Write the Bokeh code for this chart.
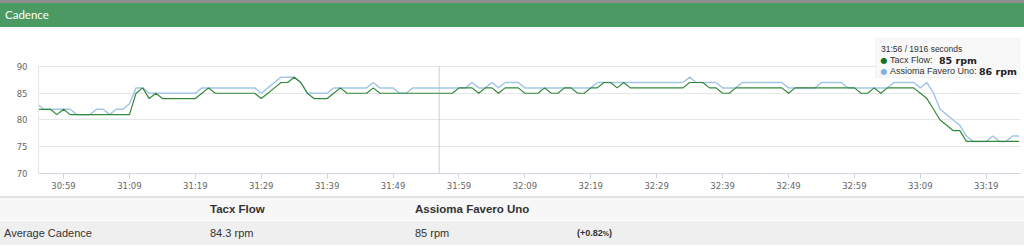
from bokeh.plotting import figure
from bokeh.models import ColumnDataSource, FixedTicker, Label, BoxAnnotation, Div, Range1d
from bokeh.layouts import column
from bokeh.embed import file_html
from bokeh.resources import INLINE

# ---------------- data ----------------
seconds = list(range(1855, 2005))
tacx_flow = [
    82, 82, 82, 81, 82, 81, 81, 81, 81, 81,
    81, 81, 81, 81, 81, 85, 86, 84, 85, 84,
    84, 84, 84, 84, 84, 85, 86, 85, 85, 85,
    85, 85, 85, 85, 84, 85, 86, 87, 87, 88,
    87, 85, 84, 84, 84, 85, 86, 85, 85, 85,
    85, 86, 85, 85, 85, 85, 85, 85, 85, 85,
    85, 85, 85, 85, 86, 86, 86, 85, 86, 86,
    85, 86, 86, 86, 85, 85, 85, 86, 85, 85,
    86, 86, 85, 85, 86, 86, 87, 87, 86, 87,
    86, 86, 86, 86, 86, 86, 86, 86, 86, 87,
    87, 87, 86, 86, 85, 85, 86, 86, 86, 86,
    86, 86, 86, 86, 85, 86, 86, 86, 86, 86,
    86, 86, 86, 86, 86, 85, 85, 86, 85, 86,
    86, 86, 86, 86, 85, 84, 82, 80, 79, 78,
    78, 76, 76, 76, 76, 76, 76, 76, 76, 76,
]
assioma_favero_uno = [
    83, 82, 82, 82, 82, 82, 81, 81, 81, 82,
    82, 81, 82, 82, 83, 86, 86, 85, 85, 85,
    85, 85, 85, 85, 85, 86, 86, 86, 86, 86,
    86, 86, 86, 86, 85, 86, 87, 88, 88, 88,
    87, 85, 85, 85, 85, 86, 86, 86, 86, 86,
    86, 87, 86, 86, 86, 85, 85, 86, 86, 86,
    86, 86, 86, 86, 86, 86, 87, 86, 86, 87,
    86, 87, 87, 87, 86, 86, 86, 86, 86, 86,
    86, 86, 86, 86, 86, 87, 87, 87, 87, 87,
    87, 87, 87, 87, 87, 87, 87, 87, 87, 88,
    87, 87, 87, 87, 86, 86, 86, 87, 87, 87,
    87, 87, 87, 87, 86, 86, 86, 86, 86, 87,
    87, 87, 87, 86, 86, 86, 86, 86, 86, 86,
    87, 87, 87, 87, 86, 87, 85, 82, 81, 80,
    79, 77, 76, 76, 76, 77, 76, 76, 77, 77,
]
x_ticks = [1859, 1869, 1879, 1889, 1899, 1909, 1919, 1929, 1939, 1949, 1959, 1969, 1979, 1989, 1999]
x_tick_labels = ["30:59", "31:09", "31:19", "31:29", "31:39", "31:49", "31:59", "32:09",
                 "32:19", "32:29", "32:39", "32:49", "32:59", "33:09", "33:19"]
y_ticks = [70, 75, 80, 85, 90]
series_names = ["Tacx Flow", "Assioma Favero Uno"]
hover_second = 1916
row_label = "Average Cadence"
averages = ["84.3 rpm", "85 rpm"]
difference = "+0.82"

GREEN = "#33893a"
GREEN_DOT = "#197019"
BLUE = "#a3c6e8"
BLUE_DOT = "#86b2e0"

# ---------------- chart ----------------
src = ColumnDataSource(dict(t=seconds, tacx=tacx_flow, assioma=assioma_favero_uno))

# frame spans page y 36..173 so the tooltip (y 38..77) lies inside it; 90 rpm sits at y ~66
p = figure(width=1024, height=168, x_range=Range1d(1855.2, 2004.2), y_range=Range1d(70, 95.6),
           output_backend="svg", toolbar_location=None,
           min_border_left=38, min_border_right=4, min_border_top=9, min_border_bottom=22)
p.outline_line_color = None
p.background_fill_color = "white"
p.border_fill_color = "white"
p.xgrid.visible = False
p.ygrid.ticker = FixedTicker(ticks=y_ticks)
p.ygrid.grid_line_color = "#e6e6e6"

p.xaxis.ticker = FixedTicker(ticks=x_ticks, minor_ticks=[])
p.xaxis.major_label_overrides = {t: l for t, l in zip(x_ticks, x_tick_labels)}
p.xaxis.axis_line_color = "#d0d6e0"
p.xaxis.major_tick_line_color = "#d0d6e0"
p.xaxis.major_tick_out = 5
p.xaxis.major_tick_in = 0
p.xaxis.minor_tick_line_color = None
p.xaxis.major_label_standoff = 2
p.xaxis.major_label_text_font = "DejaVu Sans"
p.xaxis.major_label_text_font_size = "8.5px"
p.xaxis.major_label_text_color = "#666666"

p.yaxis.ticker = FixedTicker(ticks=y_ticks, minor_ticks=[])
p.yaxis.bounds = (y_ticks[0], y_ticks[-1])
p.yaxis.axis_line_color = "#e6e6e6"
p.yaxis.major_tick_line_color = None
p.yaxis.minor_tick_line_color = None
p.yaxis.major_tick_out = 0
p.yaxis.major_label_standoff = 11
p.yaxis.major_label_text_font = "DejaVu Sans"
p.yaxis.major_label_text_font_size = "8.5px"
p.yaxis.major_label_text_color = "#666666"

# crosshair at hovered second, from bottom to top tick
p.segment(x0=[hover_second], y0=[y_ticks[0]], x1=[hover_second], y1=[y_ticks[-1]],
          line_color="#cccccc", line_width=1)

p.line("t", "assioma", source=src, line_color=BLUE, line_width=1.5)
p.line("t", "tacx", source=src, line_color=GREEN, line_width=1.2)

# tooltip (screen units relative to the frame, y measured up from frame bottom)
FL, FB = 38, 173
def sx(x):
    return x - FL
def sy(y):
    return FB - y

i = seconds.index(hover_second)
p.add_layout(BoxAnnotation(left=sx(875), right=sx(1032), top=sy(38), bottom=sy(77),
                           left_units="screen", right_units="screen", top_units="screen", bottom_units="screen",
                           fill_color="#f8f8f8", fill_alpha=0.95, line_color="#dddddd", line_width=1))
tfont = "Liberation Sans"
p.add_layout(Label(x=sx(880.5), y=sy(48.5), x_units="screen", y_units="screen",
                   text=f"{hover_second // 60}:{hover_second % 60:02d} / {hover_second} seconds",
                   text_font=tfont, text_font_size="8.5px", text_color="#333333",
                   text_baseline="middle", text_align="left"))
for row_y, name, val, dot, vx in [(59.5, series_names[0], tacx_flow[i], GREEN_DOT, 938.5),
                                  (70.5, series_names[1], assioma_favero_uno[i], BLUE_DOT, 978.5)]:
    p.add_layout(Label(x=sx(883.5), y=sy(row_y), x_units="screen", y_units="screen", text="\u25cf",
                       text_font="DejaVu Sans", text_font_size="8px", text_color=dot,
                       text_baseline="middle", text_align="center"))
    p.add_layout(Label(x=sx(889.5), y=sy(row_y), x_units="screen", y_units="screen", text=f"{name}: ",
                       text_font=tfont, text_font_size="9px", text_color="#333333",
                       text_baseline="middle", text_align="left"))
    p.add_layout(Label(x=sx(vx), y=sy(row_y), x_units="screen", y_units="screen", text=f"{val} rpm",
                       text_font="DejaVu Sans", text_font_size="9.5px", text_font_style="bold",
                       text_color="#222222", text_baseline="middle", text_align="left"))

# ---------------- header & table ----------------
header = Div(text=(
    '<div style="position:relative;width:1024px;height:27px;box-sizing:border-box;'
    'border-top:3px solid #8f8f8f;background:#4b9a63;">'
    '<span style="position:absolute;left:5px;top:4px;font-family:Lato;font-size:11.5px;'
    'line-height:16px;color:#ffffff;">Cadence</span></div>'), width=1024, height=27, margin=0)

def cell(x, y, txt, bold=False, size=11):
    w = "bold" if bold else "normal"
    return (f'<span style="position:absolute;left:{x}px;top:{y}px;height:14px;line-height:14px;'
            f'font-family:\'Liberation Sans\';font-size:{size}px;font-weight:{w};color:#333333;'
            f'white-space:nowrap;">{txt}</span>')

table_html = (
    '<div style="position:relative;width:1024px;height:55px;background:#ffffff;">'
    '<div style="position:absolute;left:0;top:1px;width:1024px;height:2px;background:#e2e2e2;"></div>'
    '<div style="position:absolute;left:0;top:3px;width:1024px;height:22px;background:#f7f7f7;"></div>'
    '<div style="position:absolute;left:0;top:26px;width:1024px;height:24px;background:#efefef;"></div>'
    + cell(210, 7, series_names[0], bold=True, size=11.5)
    + cell(415, 7, series_names[1], bold=True, size=11.5)
    + cell(4, 31, row_label)
    + cell(210, 31, averages[0])
    + cell(415, 31, averages[1])
    + cell(577, 31, f'({difference}<span style="font-size:7px">%</span>)', bold=True, size=9)
    + '</div>')
table = Div(text=table_html, width=1024, height=55, margin=0)

layout = column(header, p, table, spacing=0)
open("out.html", "w").write(file_html(layout, INLINE))
